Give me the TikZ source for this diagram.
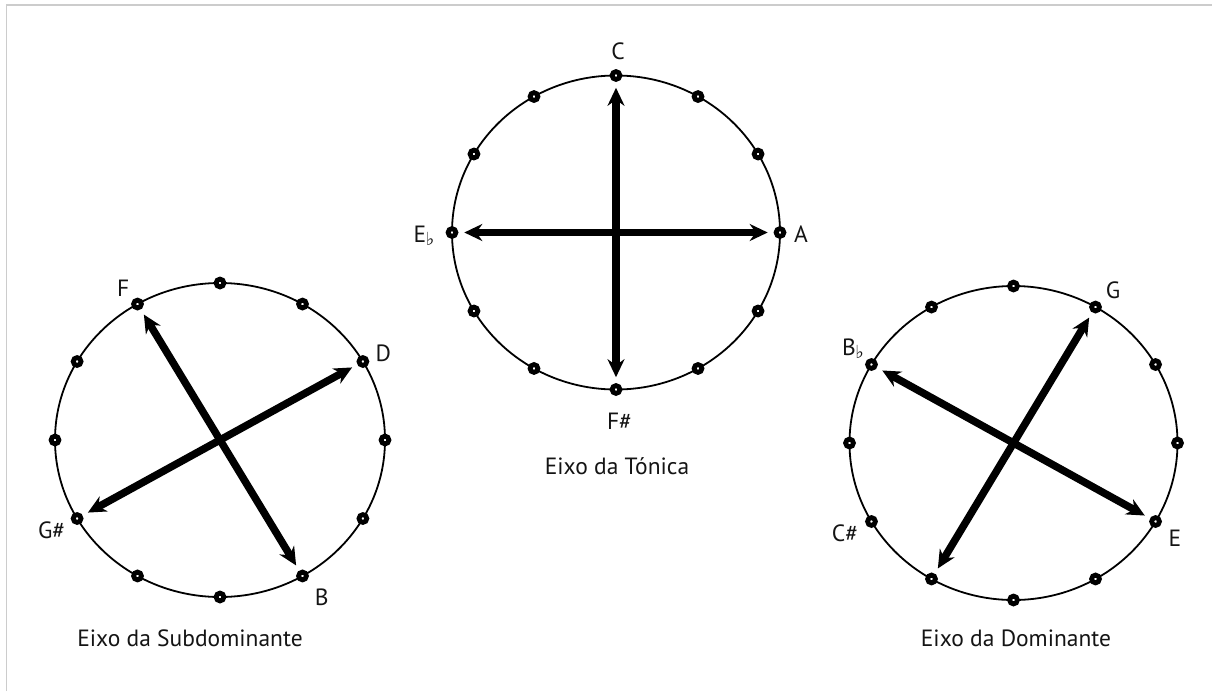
\documentclass[tikz,border=0pt]{standalone}
\usepackage{fontspec}
\setmainfont{PT Sans}
\newfontfamily\symfont{DejaVu Sans}
\usetikzlibrary{arrows.meta}
\newcommand{\flatsign}{\kern-0.5pt\raisebox{-3pt}{\symfont\fontsize{18}{18}\selectfont ♭}}
\begin{document}
\begin{tikzpicture}[x=1pt,y=-1pt,
  keydot/.style={circle,draw=black,line width=4.8pt,fill=white,minimum size=7.8pt,inner sep=0pt},
  circ/.style={line width=1.8pt},
  biarrow/.style={line width=7.5pt,
    {Stealth[length=18pt,width=17pt,inset=6pt]}-{Stealth[length=18pt,width=17pt,inset=6pt]},
    shorten <=6pt, shorten >=6pt},
  notelabel/.style={anchor=base, inner sep=0pt, font=\fontsize{23.5}{23.5}\selectfont, text=black!92},
  captext/.style={anchor=base, inner sep=0pt, font=\fontsize{23.5}{23.5}\selectfont, text=black!92},
  edgeframe/.style={draw=black!20, line width=1.5pt}]
\useasboundingbox (0,0) rectangle (1212,691);
\draw[edgeframe] (6.5,691) -- (6.5,5) -- (1212,5);

% circles
\draw[circ] (616,232.5) ellipse [x radius=164, y radius=157];
\draw[circ] (220,440) ellipse [x radius=165, y radius=157];
\draw[circ] (1013.5,443) ellipse [x radius=164, y radius=157];

\foreach \i in {0,...,11}{
  \path (616,232.5) ++({164*sin(30*\i)},{-157*cos(30*\i)}) node[keydot] (T\i) {};
  \path (220,440) ++({165*sin(30*\i)},{-157*cos(30*\i)}) node[keydot] (S\i) {};
  \path (1013.5,443) ++({164*sin(30*\i)},{-157*cos(30*\i)}) node[keydot] (D\i) {};
}

% axes
\draw[biarrow] (T0) -- (T6);
\draw[biarrow] (T9) -- (T3);
\draw[biarrow] (S11) -- (S5);
\draw[biarrow] (S2) -- (S8);
\draw[biarrow] (D1) -- (D7);
\draw[biarrow] (D10) -- (D4);

% labels center
\node[notelabel] (lC) at (618,59.5) {C};
\node[notelabel] (lFs) at (619.5,429) {F\#};
\node[notelabel] (lEb) at (424,242) {E\flatsign};
\node[notelabel] (lA) at (801,242) {A};
% labels left
\node[notelabel] (lF) at (123.3,296) {F};
\node[notelabel] (lD) at (383.3,361) {D};
\node[notelabel] (lGs) at (51.7,538) {G\#};
\node[notelabel] (lB) at (321.7,605) {B};
% labels right
\node[notelabel] (lG) at (1113,298) {G};
\node[notelabel] (lBb) at (853,355) {B\flatsign};
\node[notelabel] (lCs) at (845,541) {C\#};
\node[notelabel] (lE) at (1175,546) {E};

% captions
\node[captext] (capT) at (617,474) {Eixo da Tónica};
\node[captext] (capS) at (190,646) {Eixo da Subdominante};
\node[captext] (capD) at (1016,646) {Eixo da Dominante};
\end{tikzpicture}
\end{document}
